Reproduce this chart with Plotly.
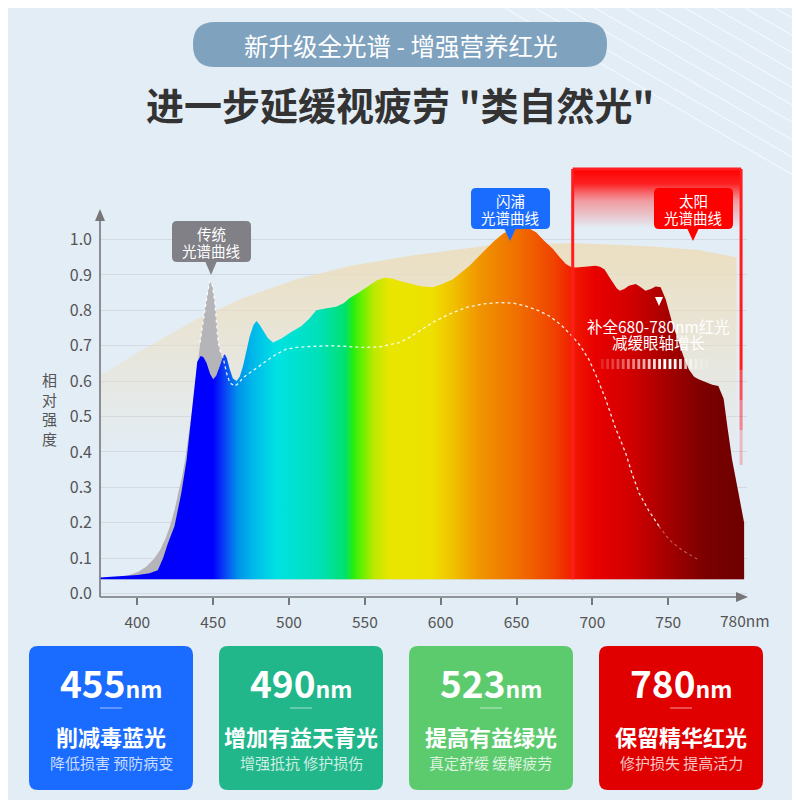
import numpy as np
import plotly.graph_objects as go

# ---- values ----
# full-spectrum lamp (coloured area)
SPEC_NM = [375, 388, 400, 408, 413.5, 417, 420, 424.5, 429, 432.5, 435, 437.5, 439.5, 441.7,
           443.5, 445.6, 448, 450, 452, 454.4, 456.5, 457.7, 459, 461, 463, 465.4, 467.5,
           469.7, 472, 474.1, 476.5, 478.5, 480.5, 482.9, 486, 489.5, 495, 502, 508, 513,
           518, 524, 531, 536, 540, 546, 552, 558, 563, 568, 573, 580, 587, 594.7, 601,
           608, 613, 619, 625, 630, 635, 641, 647, 652, 656, 659, 663, 668, 674, 678,
           682.5, 686, 689, 695, 702, 705, 708, 711, 713.5, 716, 718, 721, 724, 728.5,
           731, 735, 738.5, 741.7, 745, 748.3, 752.6, 756, 760, 763.6, 767, 770, 775,
           779, 783, 786.5, 789, 792, 796, 800]
SPEC_VAL = [0.045, 0.048, 0.052, 0.057, 0.066, 0.10, 0.14, 0.19, 0.284, 0.378, 0.472, 0.567,
            0.655, 0.671, 0.668, 0.652, 0.62, 0.605, 0.615, 0.643, 0.67, 0.676, 0.665, 0.633,
            0.607, 0.60, 0.612, 0.643, 0.69, 0.727, 0.758, 0.77, 0.76, 0.742, 0.722, 0.709,
            0.72, 0.74, 0.755, 0.775, 0.80, 0.805, 0.81, 0.82, 0.835, 0.85, 0.868, 0.885,
            0.892, 0.89, 0.883, 0.876, 0.868, 0.865, 0.874, 0.888, 0.905, 0.926, 0.952,
            0.973, 0.995, 1.016, 1.03, 1.033, 1.034, 1.03, 1.02, 0.997, 0.973, 0.952, 0.931,
            0.922, 0.921, 0.923, 0.926, 0.923, 0.915, 0.895, 0.879, 0.862, 0.855, 0.86,
            0.869, 0.874, 0.868, 0.855, 0.86, 0.867, 0.865, 0.831, 0.765, 0.72, 0.67, 0.633,
            0.612, 0.605, 0.597, 0.59, 0.586, 0.55, 0.47, 0.38, 0.29, 0.20]

# traditional LED spectrum (grey area + dotted line)
TRAD_NM = [375, 385, 395, 401, 406, 411, 415, 418.5, 421.5, 424.5, 427, 429.5, 431.5, 433.2,
           434.7, 436.5, 438, 439.8, 441.3, 443, 444.5, 446.3, 447.8, 449.5, 451.1, 452.3,
           453.3, 455, 456.6, 459, 461, 464.3, 467, 469.7, 475, 480.7, 486, 491.7, 498,
           504.8, 515, 526.8, 538, 548.6, 560, 566, 572.8, 580, 587, 594.8, 605, 616.7,
           628, 638.6, 648, 656, 664, 671.5, 679, 686.6, 692, 697.8, 703, 708.8, 715,
           721.9, 726, 730.7, 737, 743.9, 751, 759, 770, 785, 800]
TRAD_VAL = [0.04, 0.042, 0.052, 0.062, 0.076, 0.098, 0.123, 0.155, 0.19, 0.235, 0.284, 0.33,
            0.378, 0.425, 0.472, 0.53, 0.586, 0.65, 0.709, 0.76, 0.803, 0.85, 0.883, 0.87,
            0.822, 0.77, 0.709, 0.68, 0.666, 0.62, 0.595, 0.586, 0.595, 0.61, 0.625, 0.643,
            0.66, 0.676, 0.69, 0.695, 0.698, 0.70, 0.698, 0.695, 0.697, 0.702, 0.709, 0.725,
            0.745, 0.766, 0.788, 0.808, 0.818, 0.822, 0.82, 0.812, 0.80, 0.784, 0.76, 0.727,
            0.70, 0.66, 0.61, 0.548, 0.47, 0.397, 0.34, 0.284, 0.235, 0.19, 0.15, 0.123,
            0.095, 0.075, 0.065]

# sunlight curve (beige band)
SUN_NM = [375, 400, 439, 470, 505, 540, 580, 630, 687, 740, 770, 795]
SUN_VAL = [0.614, 0.68, 0.775, 0.835, 0.888, 0.925, 0.954, 0.982, 0.99, 0.98, 0.97, 0.95]

FLOOR = 0.04

# colours of the visible spectrum along the wavelength axis
COLOR_NM = [375, 450, 457, 466, 476, 492, 520, 537, 542, 548, 556, 566, 594, 607, 625,
            650, 675, 690, 702, 725, 750, 775, 800]
COLOR_HEX = ["#0000f4", "#0000ff", "#0a3ef4", "#0090ea", "#00b8ea", "#00e2e2", "#00e0b8",
             "#00e070", "#22ee12", "#66f000", "#bce800", "#e8e600", "#eee000", "#f0c400",
             "#f09600", "#f07000", "#f04200", "#f01400", "#e80000", "#d20000", "#a40000",
             "#7a0000", "#6e0000"]

Y_TICKS = [0.0, 0.1, 0.2, 0.3, 0.4, 0.5, 0.6, 0.7, 0.8, 0.9, 1.0]
X_TICKS = [400, 450, 500, 550, 600, 650, 700, 750]
X_END_LABEL = "780nm"
RED_BAND_NM = [687, 798]

CARD_NUM = ["455", "490", "523", "780"]
CARD_TITLE = ["削减毒蓝光", "增加有益天青光", "提高有益绿光", "保留精华红光"]
CARD_SUB = ["降低损害 预防病变", "增强抵抗 修护损伤", "真定舒缓 缓解疲劳", "修护损失 提高活力"]
CARD_COLOR = ["#1a6bff", "#21b78a", "#5ccb6e", "#e10000"]

# ---- layout geometry (screen pixels; the page puts the figure 8px in) ----
FONT = "Noto Sans CJK SC"
OFF = 8
FIG = 800 - OFF
PL, PR, PT, PB = 100, 747, 160, 597
NM0, NM_PX = 375.4, 1.517
Y0_PX, VAL_PX = 593.5, 354.0
X_RANGE = [NM0, NM0 + (PR - PL) / NM_PX]
Y_RANGE = [(Y0_PX - PB) / VAL_PX, (Y0_PX - PT) / VAL_PX]


def fx(x):
    return (x - PL) / (PR - PL)


def fy(y):
    return (PB - y) / (PB - PT)


def rrect(x0, y0, x1, y1, r):
    a, b, top, bot = fx(x0), fx(x1), fy(y0), fy(y1)
    rx, ry = r / (PR - PL), r / (PB - PT)
    return (f"M{a+rx},{top} L{b-rx},{top} Q{b},{top} {b},{top-ry} L{b},{bot+ry} "
            f"Q{b},{bot} {b-rx},{bot} L{a+rx},{bot} Q{a},{bot} {a},{bot+ry} "
            f"L{a},{top-ry} Q{a},{top} {a+rx},{top} Z")


def tri(xl, xr, yb, xt, yt):
    return f"M{fx(xl)},{fy(yb)} L{fx(xr)},{fy(yb)} L{fx(xt)},{fy(yt)} Z"


fig = go.Figure()

# sunlight band, fading downwards
fig.add_trace(go.Scatter(
    x=SUN_NM + [SUN_NM[-1], SUN_NM[0]], y=SUN_VAL + [FLOOR, FLOOR],
    fill="toself", mode="lines", line=dict(width=0),
    fillgradient=dict(type="vertical", start=0.38, stop=0.95,
                      colorscale=[[0, "rgba(236,222,190,0)"], [1, "rgba(236,222,190,0.9)"]]),
    hoverinfo="skip", showlegend=False,
))

# traditional spectrum (grey)
fig.add_trace(go.Scatter(
    x=TRAD_NM + [TRAD_NM[-1], TRAD_NM[0]], y=TRAD_VAL + [FLOOR, FLOOR],
    fill="toself", mode="lines", line=dict(width=0), fillcolor="#b5b5b9",
    hoverinfo="skip", showlegend=False,
))

# full spectrum, rainbow fill
lo, hi = COLOR_NM[0], COLOR_NM[-1]
scale = [[(n - lo) / (hi - lo), c] for n, c in zip(COLOR_NM, COLOR_HEX)]
fig.add_trace(go.Scatter(
    x=SPEC_NM + [SPEC_NM[-1], SPEC_NM[0]], y=SPEC_VAL + [FLOOR, FLOOR],
    fill="toself", mode="lines", line=dict(width=0),
    fillgradient=dict(type="horizontal", start=lo, stop=hi, colorscale=scale),
    hoverinfo="skip", showlegend=False,
))

# dotted outline of the traditional curve
main = [(n, v) for n, v in zip(TRAD_NM, TRAD_VAL) if 440 <= n <= 745]
tail = [(n, v) for n, v in zip(TRAD_NM, TRAD_VAL) if 743 <= n <= 775]
fig.add_trace(go.Scatter(
    x=[p[0] for p in main], y=[p[1] for p in main], mode="lines",
    line=dict(color="rgba(255,255,255,0.9)", width=1.3, dash="dot"),
    hoverinfo="skip", showlegend=False,
))
fig.add_trace(go.Scatter(
    x=[p[0] for p in tail], y=[p[1] for p in tail], mode="lines",
    line=dict(color="rgba(255,255,255,0.35)", width=1.2, dash="dot"),
    hoverinfo="skip", showlegend=False,
))

# red highlight band: gradient at the top
box_top = (Y0_PX - 169) / VAL_PX
box_fade = (Y0_PX - 228) / VAL_PX
b0, b1 = RED_BAND_NM
fig.add_trace(go.Scatter(
    x=[b0, b1, b1, b0, b0], y=[box_fade, box_fade, box_top, box_top, box_fade],
    fill="toself", mode="lines", line=dict(width=0),
    fillgradient=dict(type="vertical", start=box_fade, stop=box_top,
                      colorscale=[[0, "rgba(255,40,40,0)"], [0.45, "rgba(255,60,60,0.45)"],
                                  [0.75, "rgba(255,10,10,0.9)"], [1, "rgba(255,0,0,1)"]]),
    hoverinfo="skip", showlegend=False,
))

shapes = []
# red band border
RED = "#ff1e1e"
shapes.append(dict(type="line", xref="x", yref="y", x0=b0, x1=b1, y0=box_top, y1=box_top,
                   line=dict(color=RED, width=3)))
shapes.append(dict(type="line", xref="x", yref="y", x0=b0, x1=b0, y0=box_top, y1=FLOOR,
                   line=dict(color=RED, width=3)))
for y_a, y_b, op in [(169, 370, 1.0), (370, 400, 0.75), (400, 430, 0.5), (430, 465, 0.25)]:
    shapes.append(dict(type="line", xref="x", yref="y", x0=b1, x1=b1,
                       y0=(Y0_PX - y_a) / VAL_PX, y1=(Y0_PX - y_b) / VAL_PX,
                       line=dict(color=RED, width=3), opacity=op))

# axes with arrows
AX = "#767678"
shapes.append(dict(type="line", xref="paper", yref="paper", x0=fx(100), x1=fx(100),
                   y0=fy(597), y1=fy(218), line=dict(color=AX, width=1.6)))
shapes.append(dict(type="path", xref="paper", yref="paper", path=tri(95, 105, 221, 100, 209),
                   fillcolor=AX, line=dict(width=0)))
shapes.append(dict(type="line", xref="paper", yref="paper", x0=fx(100), x1=fx(738),
                   y0=fy(597), y1=fy(597), line=dict(color=AX, width=1.6)))
shapes.append(dict(type="path", xref="paper", yref="paper",
                   path=f"M{fx(736)},{fy(592)} L{fx(736)},{fy(602)} L{fx(748)},{fy(597)} Z",
                   fillcolor=AX, line=dict(width=0)))

# decorative white lines, top right
for i in range(10):
    xs = 505 + 30 * i
    shapes.append(dict(type="line", xref="paper", yref="paper", x0=fx(xs), y0=fy(OFF),
                       x1=fx(800), y1=fy(OFF + (800 - xs) * 0.58),
                       line=dict(color="rgba(255,255,255,0.75)", width=1)))

# header pill
shapes.append(dict(type="path", xref="paper", yref="paper", path=rrect(193, 22, 607, 67, 22),
                   fillcolor="#7fa2bf", line=dict(width=0)))

# callout labels
for (x0, y0, x1, y1, tip_x, tip_y, col) in [
        (172, 221, 251, 262, 211, 275, "#808086"),
        (471, 188, 550, 229, 510, 241, "#1a6cff"),
        (654, 188, 733, 229, 693, 241, "#ff0000")]:
    shapes.append(dict(type="path", xref="paper", yref="paper", path=rrect(x0, y0, x1, y1, 5),
                       fillcolor=col, line=dict(width=0), layer="above"))
    shapes.append(dict(type="path", xref="paper", yref="paper",
                       path=tri(tip_x - 6, tip_x + 6, y1 - 1, tip_x, tip_y),
                       fillcolor=col, line=dict(width=0), layer="above"))
# small white pointer in red band
shapes.append(dict(type="path", xref="paper", yref="paper", path=tri(655, 663, 297, 659, 306),
                   fillcolor="white", line=dict(width=0), layer="above"))
# striped bar
stripe_op = [0.15, 0.2, 0.25, 0.3, 0.38, 0.45, 0.52, 0.6, 0.68, 0.76, 0.85, 0.92, 1.0, 1.0,
             0.95, 0.85, 0.7, 0.55, 0.4, 0.28, 0.18]
for k, op in enumerate(stripe_op):
    sx = 601 + k * 5.2
    shapes.append(dict(type="rect", xref="paper", yref="paper", x0=fx(sx), x1=fx(sx + 2.8),
                       y0=fy(369), y1=fy(359), fillcolor="white", opacity=op,
                       line=dict(width=0), layer="above"))

# cards
CARD_X = [29, 219, 409, 599]
for cx0, col in zip(CARD_X, CARD_COLOR):
    shapes.append(dict(type="path", xref="paper", yref="paper",
                       path=rrect(cx0, 646, cx0 + 164, 790, 9), fillcolor=col, line=dict(width=0)))
    mid = cx0 + 82
    shapes.append(dict(type="line", xref="paper", yref="paper", x0=fx(mid - 11), x1=fx(mid + 11),
                       y0=fy(708), y1=fy(708), line=dict(color="rgba(255,255,255,0.6)", width=1)))

ann = []


def text(x, y, s, size, color="white", weight="normal"):
    ann.append(dict(xref="paper", yref="paper", x=fx(x), y=fy(y), text=s, showarrow=False,
                    font=dict(family=FONT, size=size, color=color, weight=weight),
                    xanchor="center", yanchor="middle", align="center"))


text(400, 45, "新升级全光谱 - 增强营养红光", 24.5)
text(400, 103, '进一步延缓视疲劳 "类自然光"', 38, color="#333333", weight="bold")
for cx, cy, l1 in [(211, 221, "传统"), (510, 188, "闪浦"), (693, 188, "太阳")]:
    text(cx, cy + 12, l1, 14.5)
    text(cx, cy + 29, "光谱曲线", 14.5)
text(658, 326, "补全680-780nm红光", 15.5)
text(658, 342, "减缓眼轴增长", 15.5)
text(49, 409, "相<br>对<br>强<br>度", 15, color="#555555")
text(745, 620, X_END_LABEL, 15.5, color="#555555")

for cx0, num, title, sub in zip(CARD_X, CARD_NUM, CARD_TITLE, CARD_SUB):
    mid = cx0 + 82
    text(mid, 682, f"<b>{num}</b><span style='font-size:23px'><b>nm</b></span>", 37)
    text(mid, 736, f"<b>{title}</b>", 22)
    text(mid, 762, sub, 15, color="rgba(255,255,255,0.78)")

fig.update_layout(
    width=FIG, height=FIG,
    margin=dict(l=PL - OFF, r=800 - PR, t=PT - OFF, b=800 - PB, autoexpand=False),
    paper_bgcolor="#e3edf6", plot_bgcolor="rgba(0,0,0,0)",
    font=dict(family=FONT, color="#555555"),
    showlegend=False, hovermode=False,
    shapes=shapes, annotations=ann,
)
fig.update_xaxes(range=X_RANGE, tickvals=X_TICKS, ticks="outside", ticklen=7, tickwidth=1.5,
                 tickcolor=AX, showgrid=False, zeroline=False, showline=False,
                 tickfont=dict(size=15.5, color="#555555"), ticklabelstandoff=4, fixedrange=True)
fig.update_yaxes(range=Y_RANGE, tickvals=Y_TICKS, tickformat=".1f", showgrid=True,
                 gridcolor="#d3dae3", gridwidth=1, zeroline=False, showline=False, ticks="",
                 tickfont=dict(size=16, color="#555555"), ticklabelstandoff=7, fixedrange=True)

fig.write_html("out.html")
